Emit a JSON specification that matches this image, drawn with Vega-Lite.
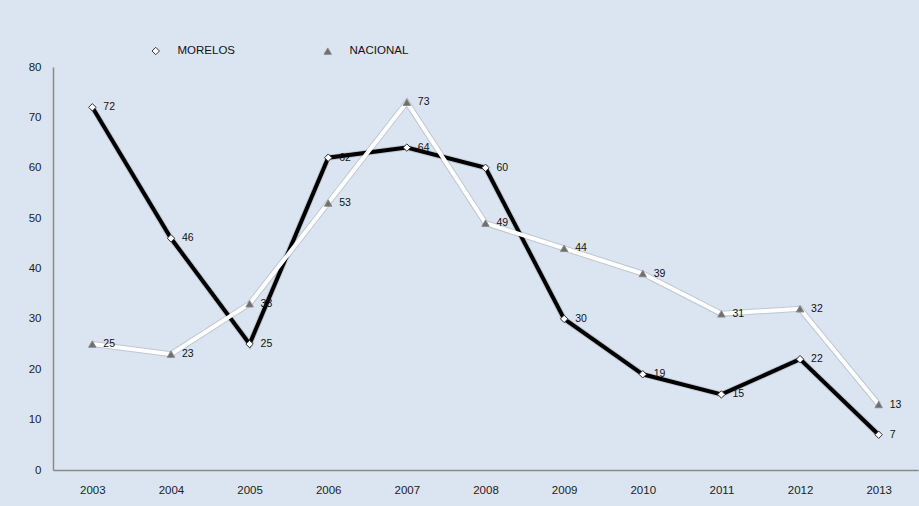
{
  "$schema": "https://vega.github.io/schema/vega-lite/v6.json",
  "width": 865,
  "height": 403,
  "autosize": {"type": "none"},
  "padding": {"left": 53, "top": 67, "right": 1, "bottom": 36},
  "background": "#dbe5f1",
  "config": {
    "view": {"stroke": null},
    "axis": {"labelFont": "Liberation Sans", "labelFontSize": 11.5, "labelColor": "#222", "domainColor": "#8a8a8a", "domainWidth": 1.5, "ticks": false, "grid": false, "title": null},
    "legend": {"labelFont": "Liberation Sans", "labelFontSize": 11.5, "labelColor": "#111"}
  },
  "data": {
    "values": [
      {"year": "2003", "serie": "MORELOS", "value": 72},
      {"year": "2004", "serie": "MORELOS", "value": 46},
      {"year": "2005", "serie": "MORELOS", "value": 25},
      {"year": "2006", "serie": "MORELOS", "value": 62},
      {"year": "2007", "serie": "MORELOS", "value": 64},
      {"year": "2008", "serie": "MORELOS", "value": 60},
      {"year": "2009", "serie": "MORELOS", "value": 30},
      {"year": "2010", "serie": "MORELOS", "value": 19},
      {"year": "2011", "serie": "MORELOS", "value": 15},
      {"year": "2012", "serie": "MORELOS", "value": 22},
      {"year": "2013", "serie": "MORELOS", "value": 7},
      {"year": "2003", "serie": "NACIONAL", "value": 25},
      {"year": "2004", "serie": "NACIONAL", "value": 23},
      {"year": "2005", "serie": "NACIONAL", "value": 33},
      {"year": "2006", "serie": "NACIONAL", "value": 53},
      {"year": "2007", "serie": "NACIONAL", "value": 73},
      {"year": "2008", "serie": "NACIONAL", "value": 49},
      {"year": "2009", "serie": "NACIONAL", "value": 44},
      {"year": "2010", "serie": "NACIONAL", "value": 39},
      {"year": "2011", "serie": "NACIONAL", "value": 31},
      {"year": "2012", "serie": "NACIONAL", "value": 32},
      {"year": "2013", "serie": "NACIONAL", "value": 13}
    ]
  },
  "encoding": {
    "x": {"field": "year", "type": "ordinal", "scale": {"type": "point", "padding": 0.5}, "axis": {"labelAngle": 0, "labelPadding": 14}},
    "y": {"field": "value", "type": "quantitative", "scale": {"domain": [0, 80]}, "axis": {"values": [0, 10, 20, 30, 40, 50, 60, 70, 80], "labelPadding": 12}}
  },
  "layer": [
    {
      "mark": {"type": "line", "strokeWidth": 6, "opacity": 0.18, "stroke": "#444", "dx": 1, "dy": 2},
      "encoding": {"detail": {"field": "serie"}}
    },
    {
      "transform": [{"filter": "datum.serie === 'MORELOS'"}],
      "mark": {"type": "line", "strokeWidth": 4, "stroke": "#000000"},
      "encoding": {}
    },
    {
      "transform": [{"filter": "datum.serie === 'NACIONAL'"}],
      "mark": {"type": "line", "strokeWidth": 4, "stroke": "#ffffff"},
      "encoding": {}
    },
    {
      "mark": {"type": "point", "filled": true, "size": 55, "strokeWidth": 1, "opacity": 1},
      "encoding": {
        "shape": {"field": "serie", "type": "nominal", "title": null, "scale": {"domain": ["MORELOS", "NACIONAL"], "range": ["diamond", "triangle-up"]},
          "legend": {"orient": "none", "direction": "horizontal", "legendX": 97, "legendY": -22, "columnPadding": 86, "labelOffset": 16, "symbolSize": 55, "symbolStrokeWidth": 1}},
        "fill": {"field": "serie", "type": "nominal", "title": null, "scale": {"domain": ["MORELOS", "NACIONAL"], "range": ["#ffffff", "#6e6e6e"]}},
        "stroke": {"field": "serie", "type": "nominal", "title": null, "scale": {"domain": ["MORELOS", "NACIONAL"], "range": ["#333333", "#8a8a8a"]}}
      }
    },
    {
      "mark": {"type": "text", "align": "left", "dx": 11, "dy": 0, "fontSize": 10.5, "font": "Liberation Sans", "color": "#111"},
      "encoding": {"text": {"field": "value", "type": "quantitative"}}
    }
  ]
}
